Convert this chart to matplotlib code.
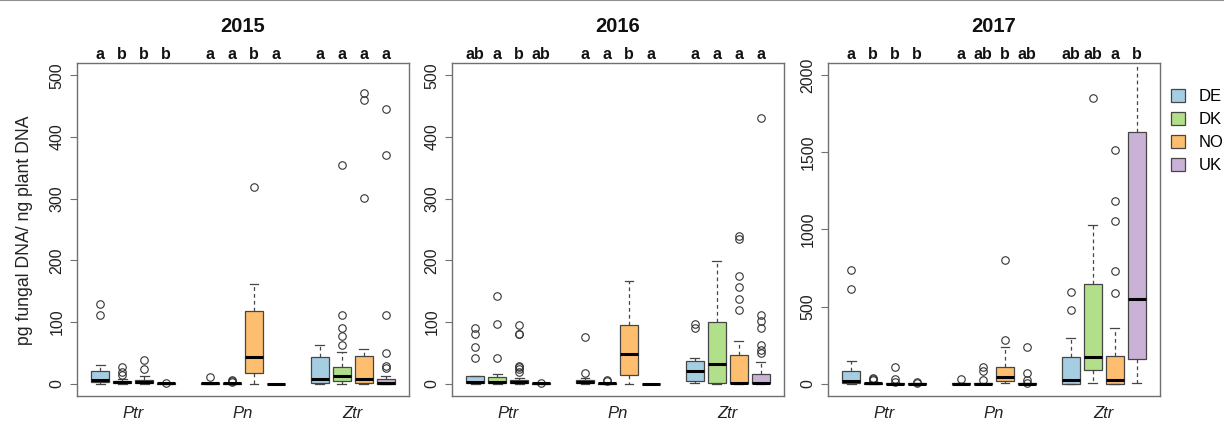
import matplotlib
matplotlib.use("Agg")
import matplotlib.pyplot as plt
from matplotlib.patches import Patch
from matplotlib.lines import Line2D
from matplotlib.transforms import blended_transform_factory

plt.rcParams['font.family'] = ['Liberation Sans', 'DejaVu Sans']

# ---------------- data ----------------
years = ["2015", "2016", "2017"]
species = ["Ptr", "Pn", "Ztr"]
countries = ["DE", "DK", "NO", "UK"]
colors = ["#A6CEE3", "#B2DF8A", "#FDBF6F", "#CAB2D6"]
positions = [1, 2, 3, 4, 6, 7, 8, 9, 11, 12, 13, 14]
ylims = [(0, 500), (0, 500), (0, 2000)]
yticks_2015 = [0, 100, 200, 300, 400, 500]
yticks_2016 = [0, 100, 200, 300, 400, 500]
yticks_2017 = [0, 500, 1000, 1500, 2000]

# order within each year: Ptr DE,DK,NO,UK | Pn DE,DK,NO,UK | Ztr DE,DK,NO,UK
letters_2015 = ["a", "b", "b", "b", "a", "a", "b", "a", "a", "a", "a", "a"]
letters_2016 = ["ab", "a", "b", "ab", "a", "a", "b", "a", "a", "a", "a", "a"]
letters_2017 = ["a", "b", "b", "b", "a", "ab", "b", "ab", "ab", "ab", "a", "b"]

lo_2015 = [0, 0, 0, 0, 0, 0, 0, 0, 0, 0, 0, 0]
q1_2015 = [2, 0.5, 1, 0, 0, 0, 18, 0, 1, 4, 1, 0]
med_2015 = [6, 2, 2, 0.3, 0.3, 0.3, 44, 0, 8, 13, 7.5, 0.5]
q3_2015 = [21, 5, 6.5, 1, 1, 1, 118, 0, 43, 26.5, 45, 7.5]
hi_2015 = [30, 7, 12, 1, 1, 1, 161, 0, 63, 51, 56, 12]
fliers_2015 = [[111, 129], [13.5, 19, 27], [24, 39], [1.5],
               [11], [2, 4, 6.5], [319], [],
               [], [63, 77, 90, 111, 354], [301, 460, 471], [25, 29, 50, 111, 370, 446]]

lo_2016 = [0, 0, 0, 0, 0, 0, 0, 0, 1, 0, 0, 0]
q1_2016 = [0.5, 0.5, 0.5, 0, 1, 0, 14, 0, 4, 1, 0.5, 0.5]
med_2016 = [2, 2, 3, 0.3, 3, 0.3, 48, 0, 21, 32, 1, 1.5]
q3_2016 = [13, 11, 6.5, 1, 6.5, 1, 95, 0, 36, 99.5, 46, 16]
hi_2016 = [13, 16, 10, 1, 10, 1, 167, 0, 42, 199, 70, 35]
fliers_2016 = [[42, 59, 81, 90], [41, 97, 142], [19, 23, 26.5, 28, 80, 81, 95], [0.5],
               [18, 75], [4, 6.5], [], [],
               [90, 97], [], [120, 138, 157, 175, 235, 240], [50, 55, 62, 90, 102, 112, 431]]

lo_2017 = [0, 0, 0, 0, 0, 0, 4, 0, 0, 4, 0, 4]
q1_2017 = [6, 0, 0, 0, 0, 0, 15, 0, 1, 89, 0, 160]
med_2017 = [15, 2, 1, 1, 1, 1, 45, 1, 22, 173, 22, 548]
q3_2017 = [80, 4, 2, 2, 2, 2, 106, 2, 173, 645, 178, 1632]
hi_2017 = [149, 10, 4, 3, 3, 3, 236, 3, 299, 1031, 364, 2300]
fliers_2017 = [[617, 740], [26, 30, 35], [11, 32, 110], [2, 13],
               [32], [22, 84, 106], [284, 799], [4, 26, 69, 238],
               [478, 593], [1851], [589, 732, 1056, 1184, 1516], []]

ylabel = "pg fungal DNA/ ng plant DNA"

panel_data = [
    (lo_2015, q1_2015, med_2015, q3_2015, hi_2015, fliers_2015, letters_2015, yticks_2015),
    (lo_2016, q1_2016, med_2016, q3_2016, hi_2016, fliers_2016, letters_2016, yticks_2016),
    (lo_2017, q1_2017, med_2017, q3_2017, hi_2017, fliers_2017, letters_2017, yticks_2017),
]

# ---------------- figure ----------------
W, H = 1224, 423
fig = plt.figure(figsize=(W / 100, H / 100), dpi=100)

lefts = [77, 452, 828]
ax_w = 332
ax_top, ax_bot = 63, 396
ax_h = ax_bot - ax_top
frame_col = "#707070"
edge_col = "#454545"

for i, (lo, q1, med, q3, hi, fl, letters, yt) in enumerate(panel_data):
    ax = fig.add_axes([lefts[i] / W, 1 - ax_bot / H, ax_w / W, ax_h / H])
    stats = []
    for j in range(len(positions)):
        stats.append(dict(med=med[j], q1=q1[j], q3=q3[j], whislo=lo[j], whishi=hi[j], fliers=fl[j]))
    bp = ax.bxp(stats, positions=positions, widths=0.8, capwidths=0.4, patch_artist=True,
                boxprops=dict(edgecolor=edge_col, linewidth=0.9),
                medianprops=dict(color="black", linewidth=2.2, solid_capstyle="butt"),
                whiskerprops=dict(color=edge_col, linewidth=0.9, linestyle=(0, (3, 2.5))),
                capprops=dict(color=edge_col, linewidth=0.9),
                flierprops=dict(marker="o", markerfacecolor="none", markeredgecolor="#333333",
                                markersize=5.4, markeredgewidth=0.8, linestyle="none"))
    for j, box in enumerate(bp["boxes"]):
        box.set_facecolor(colors[j % 4])

    r = ylims[i][1] - ylims[i][0]
    ax.set_ylim(ylims[i][0] - 0.04 * r, ylims[i][1] + 0.04 * r)
    ax.set_xlim(0.5 - 0.04 * 14, 14.5 + 0.04 * 14)
    ax.set_yticks(yt)
    ax.set_yticklabels([str(v) for v in yt], rotation=90, va="center", fontsize=11.5, color="#222222")
    ax.tick_params(axis="y", length=5, width=0.8, color=frame_col, pad=4)
    ax.set_xticks([])
    for s in ax.spines.values():
        s.set_color(frame_col)
        s.set_linewidth(1.0)

    tr = blended_transform_factory(ax.transData, ax.transAxes)
    for j, p in enumerate(positions):
        ax.text(p, 1.012, letters[j], transform=tr, ha="center", va="baseline",
                fontsize=11.5, fontweight="bold", color="#111111")
    for k, sp in enumerate(species):
        ax.text(positions[4 * k] + 1.5, -(421 - ax_bot) / ax_h, sp, transform=tr,
                ha="center", va="bottom", fontsize=12, fontstyle="italic", color="#222222")
    ax.text(0.5, 1.094, years[i], transform=ax.transAxes, ha="center", va="baseline",
            fontsize=14.5, fontweight="bold", color="#111111")

fig.text(25 / W, 1 - 230 / H, ylabel, rotation=90, ha="center", va="center",
         fontsize=12.7, color="#222222")

handles = [Patch(facecolor=c, edgecolor=edge_col, linewidth=0.9) for c in colors]
fig.legend(handles, countries, loc="upper left", bbox_to_anchor=(1171 / W, 1 - 89 / H),
           frameon=False, fontsize=12, handlelength=0.85, handleheight=0.85,
           handletextpad=0.8, labelspacing=0.45, borderpad=0, borderaxespad=0)

fig.add_artist(Line2D([0, 1], [1 - 0.5 / H, 1 - 0.5 / H], color="#909090", linewidth=1.5))

fig.savefig("out.png", dpi=100)
